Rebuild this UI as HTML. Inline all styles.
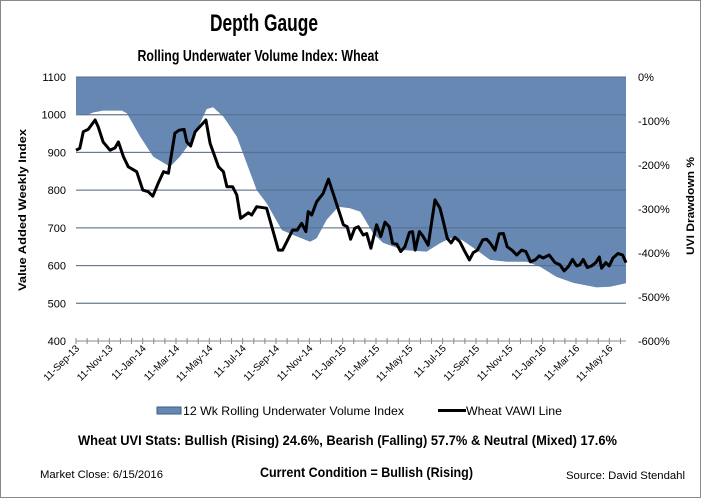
<!DOCTYPE html>
<html><head><meta charset="utf-8"><style>
body{margin:0;background:#fff}
svg{display:block;font-family:"Liberation Sans",sans-serif}
</style></head><body>
<svg id="chart" width="701" height="498">
<rect x="0.5" y="0.5" width="700" height="497" fill="#fff" stroke="#888"/>
<text x="264" y="31" font-size="24" font-weight="bold" text-anchor="middle" textLength="108" lengthAdjust="spacingAndGlyphs">Depth Gauge</text>
<text x="258" y="61" font-size="16" font-weight="bold" text-anchor="middle" textLength="241" lengthAdjust="spacingAndGlyphs">Rolling Underwater Volume Index: Wheat</text>
<g id="plot"></g>
<text transform="translate(26,210) rotate(-90)" font-size="11" font-weight="bold" text-anchor="middle" textLength="162" lengthAdjust="spacingAndGlyphs">Value Added Weekly Index</text>
<text transform="translate(694,206) rotate(-90)" font-size="11" font-weight="bold" text-anchor="middle" textLength="98" lengthAdjust="spacingAndGlyphs">UVI Drawdown %</text>
<g>
<rect x="157" y="407" width="24" height="7" fill="#6688b3" stroke="#3d5a85"/>
<text x="183" y="415" font-size="12" textLength="221" lengthAdjust="spacingAndGlyphs">12 Wk Rolling Underwater Volume Index</text>
<line x1="438" y1="410.5" x2="466" y2="410.5" stroke="#000" stroke-width="3"/>
<text x="466" y="415" font-size="12" textLength="96" lengthAdjust="spacingAndGlyphs">Wheat VAWI Line</text>
</g>
<text x="78" y="445" font-size="14" font-weight="bold" textLength="539" lengthAdjust="spacingAndGlyphs">Wheat UVI Stats:  Bullish (Rising) 24.6%, Bearish (Falling) 57.7% &amp; Neutral (Mixed) 17.6%</text>
<text x="40" y="478" font-size="11" textLength="123" lengthAdjust="spacingAndGlyphs">Market Close: 6/15/2016</text>
<text x="260" y="477" font-size="14" font-weight="bold" textLength="213" lengthAdjust="spacingAndGlyphs">Current Condition = Bullish (Rising)</text>
<text x="566" y="479" font-size="11" textLength="119" lengthAdjust="spacingAndGlyphs">Source: David Stendahl</text>
</svg>
<script>
const lineWeeks=[0,1.0,1.9,3.2,5.0,5.8,7.1,8.9,10.2,11.1,12.4,13.7,15.9,17.5,18.9,20.1,21.5,22.9,24.2,25.9,27.0,28.3,29.0,30.0,31.2,34.0,35.1,37.3,38.6,39.5,41.0,42.1,43.1,45.1,46.0,47.3,49.9,53.0,54.1,56.7,57.9,59.1,60.2,60.8,61.7,63.0,64.7,66.1,68.3,70.0,71.0,71.9,73.0,73.9,75.2,76.1,77.2,78.7,79.8,80.9,82.0,82.9,84.0,85.0,86.1,87.3,88.1,88.8,89.9,90.9,92.2,94.0,95.3,96.2,97.2,98.2,99.2,100.5,101.6,103.0,104.0,105.1,106.5,107.5,108.4,109.7,110.8,111.9,112.9,114.1,115.4,116.7,117.8,119.0,120.2,121.3,122.3,123.9,125.4,126.7,127.8,128.9,130.0,131.1,131.9,132.8,133.9,135.0,136.1,137.0,137.6,138.7,139.6,140.6,141.9,143.1,144];
const lineValues=[906,911,955,961,986,968,928,906,912,928,889,862,849,800,796,784,818,849,845,951,959,961,928,917,955,986,924,862,849,809,809,787,725,740,734,756,752,641,641,694,694,712,690,743,734,769,791,829,761,708,703,670,699,703,681,685,646,708,677,715,703,659,657,637,650,688,690,641,690,677,654,774,752,716,672,660,675,663,641,615,634,641,668,670,660,641,684,685,650,641,628,641,637,610,615,626,620,628,608,602,586,597,616,599,602,616,595,599,608,623,593,608,599,620,632,628,608];
const areaWeeks=[0,2.8,4.5,7.1,12.0,13.3,16.8,20.2,24.6,27.2,30.7,34.2,35.9,38.6,42.1,44.7,47.3,49.9,53.9,56.9,61.3,63.0,65.6,68.7,71.7,74.4,75.2,77.8,80.4,85.7,91.8,95.3,97.9,101.0,104.9,108.4,112.8,118.0,121.5,125.8,130.2,136.3,139.8,144];
const areaValues=[1002,999,1006,1011,1011,1004,942,889,862,889,937,1015,1020,995,942,871,800,765,694,681,663,672,721,756,752,743,730,685,660,641,637,659,672,668,641,615,610,610,597,570,554,542,544,553];
const leftTicks=[1100,1000,900,800,700,600,500,400];
const rightTicks=["0%","-100%","-200%","-300%","-400%","-500%","-600%"];
const xLabels=["11-Sep-13","11-Nov-13","11-Jan-14","11-Mar-14","11-May-14","11-Jul-14","11-Sep-14","11-Nov-14","11-Jan-15","11-Mar-15","11-May-15","11-Jul-15","11-Sep-15","11-Nov-15","11-Jan-16","11-Mar-16","11-May-16"];

const X0=76,X1=626,Y0=77,Y1=341,NW=144;
const xs=w=>X0+(w/NW)*(X1-X0);
const ys=v=>Y0+(1100-v)/700*(Y1-Y0);
const NS="http://www.w3.org/2000/svg";
const g=document.getElementById('plot');
function mk(t,a){const e=document.createElementNS(NS,t);for(const k in a)e.setAttribute(k,a[k]);g.appendChild(e);return e;}

leftTicks.forEach((v,i)=>{
  const l=mk('line',{x1:X0,x2:X1,y1:ys(v),y2:ys(v),stroke:'#8a8a8a','stroke-width':1});
  
  
});
let d='M'+xs(0)+','+ys(1100);
areaWeeks.forEach((w,i)=>{d+=' L'+xs(w).toFixed(1)+','+ys(areaValues[i]).toFixed(1);});
d+=' L'+xs(NW)+','+ys(1100)+' Z';
const ar=mk('path',{d:d,fill:'#6688b3','stroke-linejoin':'round'});


leftTicks.slice(0,-1).forEach(v=>{
  const l=mk('line',{x1:X0,x2:X1,y1:ys(v),y2:ys(v),stroke:'#4a6288','stroke-width':1,'stroke-opacity':0.7});
  
  
});
let ld='';
lineWeeks.forEach((w,i)=>{ld+=(i?' L':'M')+xs(w).toFixed(1)+','+ys(lineValues[i]).toFixed(1);});
const ln=mk('path',{d:ld,fill:'none',stroke:'#000','stroke-width':3,'stroke-linejoin':'round'});


const ax=mk('line',{x1:X0,x2:X1,y1:Y1,y2:Y1,stroke:'#888'});


for(let k=0;k<=49;k++){
  const x=X0+k*(X1-X0)/49.5;
  if(x>X1)break;
  const t=mk('line',{x1:x,x2:x,y1:Y1-3,y2:Y1+3,stroke:'#888'});
  
  
}
xLabels.forEach((s,i)=>{
  const x=X0+i*(X1-X0)/49.5*3+4;
  const t=mk('text',{x:0,y:0,'font-size':10,'text-anchor':'end',transform:`translate(${x},${Y1+8}) rotate(-45)`});
  t.textContent=s;
  
  
});
leftTicks.forEach(v=>{
  const t=mk('text',{x:66,y:ys(v)+4,'font-size':11,'text-anchor':'end'});
  t.textContent=v;
  
  
});
rightTicks.forEach((s,i)=>{
  const y=Y0+i*(Y1-Y0)/6;
  const t=mk('text',{x:638,y:y+4,'font-size':11});
  t.textContent=s;
  
  
});
</script>
</body></html>
